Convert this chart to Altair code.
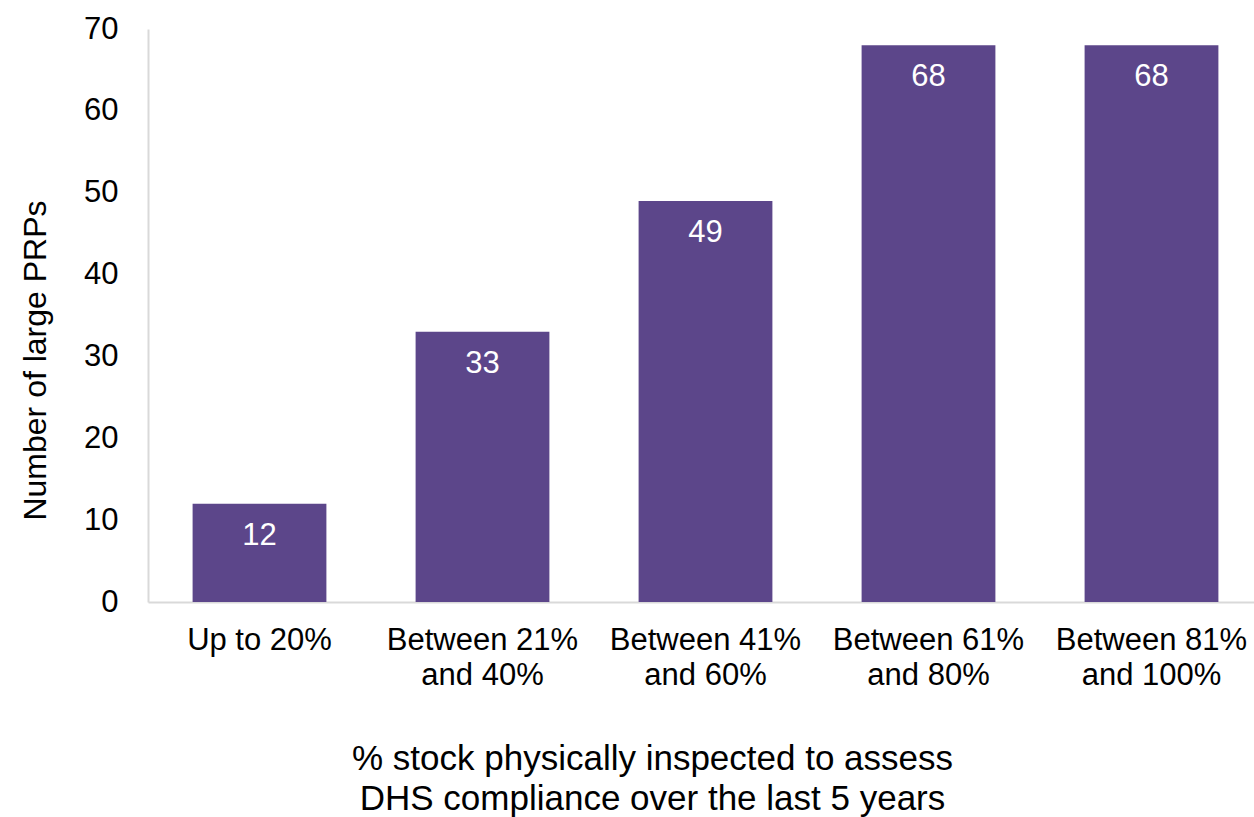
import altair as alt
import pandas as pd

categories = ["Up to 20%", "Between 21% and 40%", "Between 41% and 60%",
              "Between 61% and 80%", "Between 81% and 100%"]
values = [12, 33, 49, 68, 68]
y_ticks = [0, 10, 20, 30, 40, 50, 60, 70]

df = pd.DataFrame({"cat": categories, "n": values})

FONT = "Liberation Sans"
BAR = "#5C468A"

x = alt.X(
    "cat:N", sort=categories,
    scale=alt.Scale(range=[0, 1115], paddingInner=0.4, paddingOuter=0.2),
    axis=alt.Axis(
        title=["% stock physically inspected to assess", "DHS compliance over the last 5 years"],
        labelAngle=0, ticks=False, domainColor="#D9D9D9", domainWidth=2,
        labelFont=FONT, labelFontSize=31, labelColor="black", labelPadding=23,
        labelLineHeight=35, labelLimit=0,
        labelExpr="indexof(datum.label,' and ')>0 ? [substring(datum.label,0,indexof(datum.label,' and ')), substring(datum.label,indexof(datum.label,' and ')+1)] : datum.label",
        titleFont=FONT, titleFontSize=35, titleFontWeight="normal", titleColor="black",
        titlePadding=51, titleLineHeight=40, titleX=504, titleAlign="center",
    ),
)
y = alt.Y(
    "n:Q",
    scale=alt.Scale(domain=[0, 70], nice=False),
    axis=alt.Axis(
        values=y_ticks, title="Number of large PRPs", grid=False, ticks=False,
        domainColor="#D9D9D9", domainWidth=2,
        labelFont=FONT, labelFontSize=31, labelColor="black", labelPadding=30,
        titleFont=FONT, titleFontSize=32, titleFontWeight="normal", titleColor="black",
        titlePadding=31, titleY=331, titleAlign="center",
    ),
)

bars = alt.Chart(df).mark_bar(color=BAR).encode(x=x, y=y)
text = alt.Chart(df).mark_text(
    color="white", font=FONT, fontSize=31, baseline="middle", dy=32
).encode(x=alt.X("cat:N", sort=categories), y="n:Q", text="n:Q")

chart = (bars + text).properties(
    width=1106, height=573,
    autosize=alt.AutoSizeParams(type="none"),
    padding={"left": 148, "top": 29, "right": 0, "bottom": 215},
).configure_view(stroke=None)

chart.save("out.html", embed_options={"renderer": "svg", "actions": False})
